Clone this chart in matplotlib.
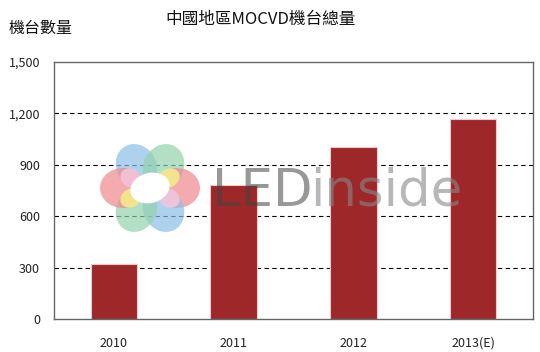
import numpy as np
import matplotlib.pyplot as plt
from matplotlib.patches import Ellipse

plt.rcParams['font.family'] = ['Noto Sans CJK TC', 'DejaVu Sans']

# data
years = ['2010', '2011', '2012', '2013(E)']
units = [320, 780, 1005, 1165]
yticks = [0, 300, 600, 900, 1200, 1500]
ytick_labels = ['0', '300', '600', '900', '1,200', '1,500']

bar_color = '#9E2729'

fig = plt.figure(figsize=(5.4, 3.52), dpi=100)
ax = fig.add_axes([0.1, 0.094, 0.887, 0.730])

x = np.arange(len(years))

# watermark: flower logo + LEDinside text
petals = [(120, '#8cbfe6'), (60, '#93d3ac'), (0, '#f0888f'),
          (-60, '#8cbfe6'), (-120, '#93d3ac'), (180, '#f0888f')]
cx, cy = 150, 352 - 188
for deg, c in petals:
    ang = np.deg2rad(deg)
    e = Ellipse((cx + 27 * np.cos(ang), cy + 25 * np.sin(ang)), 46, 40,
                angle=deg, color=c, alpha=0.7, transform=None, zorder=0.5, lw=0)
    fig.patches.append(e)
for deg, c in [(30, '#f9ef8a'), (-150, '#f9ef8a'), (150, '#f7c6da'), (-30, '#f7c6da')]:
    ang = np.deg2rad(deg)
    e = Ellipse((cx + 22 * np.cos(ang), cy + 20 * np.sin(ang)), 22, 18,
                angle=deg, color=c, alpha=0.85, transform=None, zorder=0.55, lw=0)
    fig.patches.append(e)
fig.patches.append(Ellipse((cx, cy), 40, 30, angle=15, color='white',
                           transform=None, zorder=0.6, lw=0))

ax.grid(axis='y', linestyle=(0, (4, 3)), color='black', linewidth=0.8, zorder=1)
ax.set_axisbelow(True)

ax.bar(x, units, width=0.39, color=bar_color, edgecolor='#f2c9c9', linewidth=0.8, zorder=2)

fig.text(0.392, 0.455, 'LED', fontsize=37, color='#444444', alpha=0.55,
         family='DejaVu Sans', va='center', zorder=5)
fig.text(0.575, 0.455, 'inside', fontsize=37, color='#888888', alpha=0.6,
         family='DejaVu Sans', va='center', zorder=5)

ax.set_xlim(-0.5, 3.5)
ax.set_ylim(0, 1500)
ax.set_yticks(yticks)
ax.set_yticklabels(ytick_labels)
ax.set_xticks(x)
ax.set_xticklabels(years)
ax.tick_params(axis='both', length=0, labelsize=9, colors='#222222')
ax.tick_params(axis='y', pad=10)
ax.tick_params(axis='x', pad=13)
for s in ax.spines.values():
    s.set_color('#666666')
    s.set_linewidth(1)
ax.get_ygridlines()[0].set_visible(False)
ax.get_ygridlines()[-1].set_visible(False)

fig.text(0.482, 0.945, '中國地區MOCVD機台總量', fontsize=12, fontweight='medium',
         ha='center', va='center', color='#111111')
fig.text(0.015, 0.92, '機台數量', fontsize=11.5, fontweight='medium',
         ha='left', va='center', color='#111111')

fig.savefig('out.png', dpi=100)
